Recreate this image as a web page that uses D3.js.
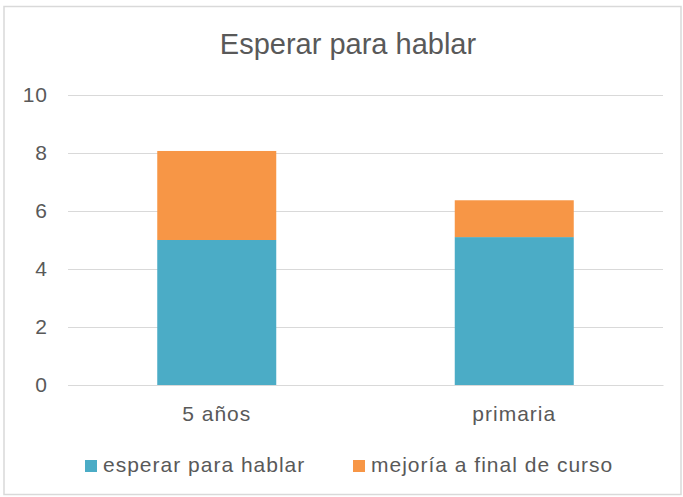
<!DOCTYPE html>
<html>
<head>
<meta charset="utf-8">
<script src="https://cdn.jsdelivr.net/npm/d3@7"></script>
<style>
  body { margin: 0; background: #fff; }
  text { font-family: "Liberation Sans", Arial, sans-serif; fill: #595959; }
</style>
</head>
<body>
<div id="container"></div>
<script>
/* DATA */
const categories = ["5 años", "primaria"];
const esperar = [5.0, 5.1];
const mejoria = [3.07, 1.27];
const seriesNames = ["esperar para hablar", "mejoría a final de curso"];
const yTicks = [0, 2, 4, 6, 8, 10];

/* CONSTANTS */
const width = 683,
  height = 497,
  margin = { top: 95, bottom: 112, left: 68, right: 20 },
  colors = ["#4BACC6", "#F79646"];

const rows = categories.map((c, i) => ({ cat: c, esperar: esperar[i], mejoria: mejoria[i] }));
const stack = d3.stack().keys(["esperar", "mejoria"])(rows);

/* SCALES */
const xScale = d3.scaleBand()
  .domain(categories)
  .range([margin.left, width - margin.right])
  .paddingInner(0.6)
  .paddingOuter(0.3);

const yScale = d3.scaleLinear()
  .domain([0, 10])
  .range([height - margin.bottom, margin.top]);

/* SVG */
const svg = d3.select("#container")
  .append("svg")
  .attr("width", width)
  .attr("height", height);

// chart border
svg.append("rect")
  .attr("x", 4)
  .attr("y", 6.5)
  .attr("width", 677)
  .attr("height", 488)
  .attr("fill", "none")
  .attr("stroke", "#d9d9d9")
  .attr("stroke-width", 1.5);

// title
svg.append("text")
  .attr("x", 348)
  .attr("y", 54)
  .attr("text-anchor", "middle")
  .style("font-size", "29px")
  .text("Esperar para hablar");

// y axis + gridlines
const yAxis = d3.axisLeft(yScale)
  .tickValues(yTicks)
  .tickSize(-(width - margin.left - margin.right))
  .tickPadding(20);

const gy = svg.append("g")
  .attr("transform", `translate(${margin.left},0)`)
  .call(yAxis);
gy.select(".domain").remove();
gy.selectAll(".tick line").attr("stroke", "#d9d9d9");
gy.selectAll(".tick text")
  .style("font-size", "21px")
  .style("letter-spacing", "1px")
  .attr("fill", "#595959")
  .attr("font-family", null);

// bars
svg.append("g")
  .selectAll("g")
  .data(stack)
  .join("g")
  .attr("fill", (d, i) => colors[i])
  .selectAll("rect")
  .data(d => d)
  .join("rect")
  .attr("x", d => xScale(d.data.cat))
  .attr("y", d => yScale(d[1]))
  .attr("height", d => yScale(d[0]) - yScale(d[1]))
  .attr("width", xScale.bandwidth());

// x axis
const xAxis = d3.axisBottom(xScale).tickSize(0).tickPadding(21);
const gx = svg.append("g")
  .attr("transform", `translate(0,${height - margin.bottom})`)
  .call(xAxis);
gx.select(".domain").attr("stroke", "#d9d9d9");
gx.selectAll(".tick text")
  .style("font-size", "21px")
  .style("letter-spacing", "1px")
  .attr("fill", "#595959");

// legend
const legendX = [85, 353];
const legend = svg.append("g")
  .selectAll("g")
  .data(seriesNames)
  .join("g")
  .attr("transform", (d, i) => `translate(${legendX[i]},460)`);
legend.append("rect")
  .attr("width", 12)
  .attr("height", 12)
  .attr("fill", (d, i) => colors[i]);
legend.append("text")
  .attr("x", 18)
  .attr("y", 12)
  .style("font-size", "21px")
  .style("letter-spacing", "1px")
  .text(d => d);
</script>
</body>
</html>
